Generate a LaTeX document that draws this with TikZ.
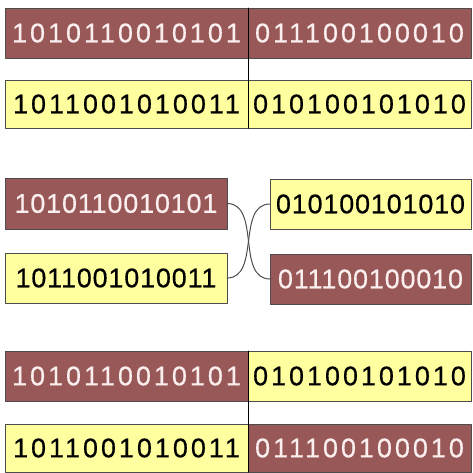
\documentclass[tikz,border=0pt]{standalone}
\usepackage{fontspec}
\setmainfont{Liberation Sans}
\newfontfamily\bitswide[LetterSpace=11, FakeBold=0.4]{Liberation Sans}
\newfontfamily\bitsnarrow[LetterSpace=3, FakeBold=0.4]{Liberation Sans}
\definecolor{chroma}{RGB}{152,88,88}
\definecolor{chromb}{RGB}{255,255,160}
\definecolor{bitlight}{RGB}{250,238,238}
\begin{document}
\begin{tikzpicture}[x=1pt, y=-1pt, line join=round, line cap=round,
	gene/.style={draw=black!70, line width=.8pt, inner sep=0pt, outer sep=0pt},
	pa/.style={gene, fill=chroma, text=bitlight},
	pb/.style={gene, fill=chromb, text=black},
	wide/.style={font=\bitswide\fontsize{27}{27}\selectfont},
	narrow/.style={font=\bitsnarrow\fontsize{27}{27}\selectfont},
	cut/.style={line width=1pt, black},
	cross/.style={line width=1pt, black!70}]
	\useasboundingbox (0,0) rectangle (473,472);
	% parents
	\node[pa, wide, minimum width=243, minimum height=50] (p1a) at (126.5,33) {1010110010101};
	\node[pa, wide, minimum width=223, minimum height=50] (p1b) at (359.5,33) {011100100010};
	\node[pb, wide, minimum width=243, minimum height=48] (p2a) at (126.5,104) {1011001010011};
	\node[pb, wide, minimum width=223, minimum height=48] (p2b) at (359.5,104) {010100101010};
	\draw[cut] (p1a.north east) -- (p2a.south east);
	% crossover
	\node[pa, narrow, minimum width=222, minimum height=51] (c1a) at (116,203.5) {1010110010101};
	\node[pb, narrow, minimum width=222, minimum height=50] (c2a) at (116,278) {1011001010011};
	\node[pb, narrow, minimum width=201, minimum height=50] (c1b) at (370.5,204) {010100101010};
	\node[pa, narrow, minimum width=201, minimum height=50] (c2b) at (370.5,279) {011100100010};
	\draw[cross] (c1a.east) to[out=0, in=180] (c2b.west);
	\draw[cross] (c2a.east) to[out=0, in=180] (c1b.west);
	% offspring
	\node[pa, wide, minimum width=243, minimum height=50] (o1a) at (126.5,376) {1010110010101};
	\node[pb, wide, minimum width=223, minimum height=50] (o1b) at (359.5,376) {010100101010};
	\node[pb, wide, minimum width=243, minimum height=48] (o2a) at (126.5,448) {1011001010011};
	\node[pa, wide, minimum width=223, minimum height=48] (o2b) at (359.5,448) {011100100010};
	\draw[cut] (o1a.north east) -- (o2a.south east);
\end{tikzpicture}
\end{document}
